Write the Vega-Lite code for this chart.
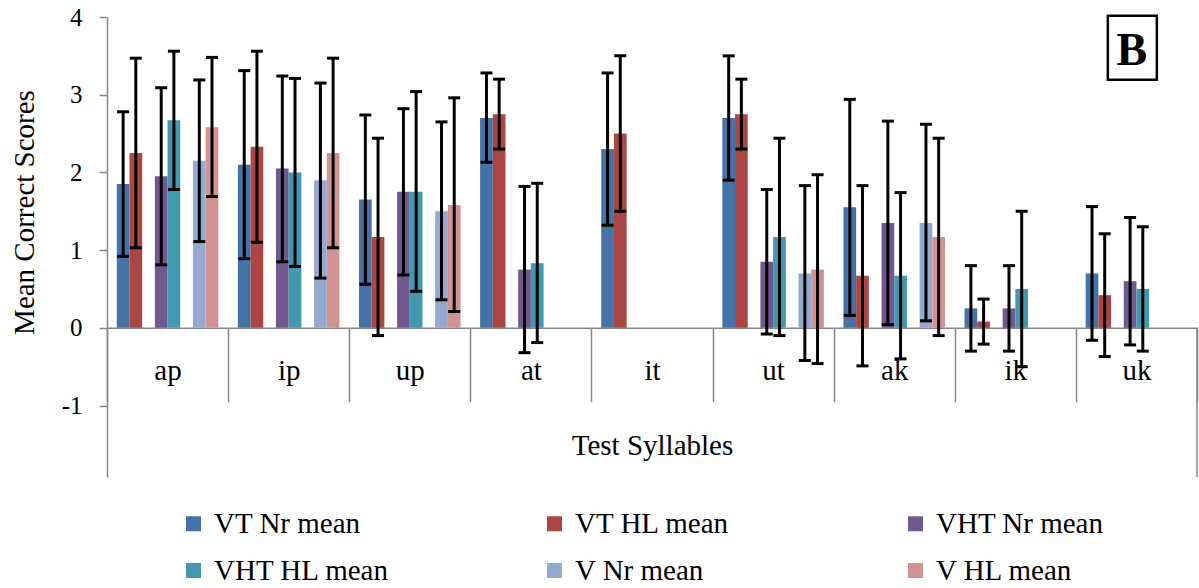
{
  "$schema": "https://vega.github.io/schema/vega-lite/v6.json",
  "width": 1090,
  "height": 460,
  "autosize": {"type": "none"},
  "padding": {"left": 107, "top": 17, "right": 2, "bottom": 111},
  "background": "white",
  "config": {"view": {"stroke": null}, "font": "Liberation Serif"},
  "datasets": {
    "scores": [
      {"syllable": "ap", "series": "VT Nr mean", "mean": 1.85, "lo": 0.92, "hi": 2.78},
      {"syllable": "ap", "series": "VT HL mean", "mean": 2.25, "lo": 1.03, "hi": 3.47},
      {"syllable": "ap", "series": "VHT Nr mean", "mean": 1.95, "lo": 0.81, "hi": 3.09},
      {"syllable": "ap", "series": "VHT HL mean", "mean": 2.67, "lo": 1.78, "hi": 3.56},
      {"syllable": "ap", "series": "V Nr mean", "mean": 2.15, "lo": 1.11, "hi": 3.19},
      {"syllable": "ap", "series": "V HL mean", "mean": 2.58, "lo": 1.69, "hi": 3.48},
      {"syllable": "ip", "series": "VT Nr mean", "mean": 2.10, "lo": 0.89, "hi": 3.31},
      {"syllable": "ip", "series": "VT HL mean", "mean": 2.33, "lo": 1.10, "hi": 3.56},
      {"syllable": "ip", "series": "VHT Nr mean", "mean": 2.05, "lo": 0.85, "hi": 3.24},
      {"syllable": "ip", "series": "VHT HL mean", "mean": 2.00, "lo": 0.79, "hi": 3.21},
      {"syllable": "ip", "series": "V Nr mean", "mean": 1.90, "lo": 0.64, "hi": 3.15},
      {"syllable": "ip", "series": "V HL mean", "mean": 2.25, "lo": 1.03, "hi": 3.47},
      {"syllable": "up", "series": "VT Nr mean", "mean": 1.65, "lo": 0.56, "hi": 2.74},
      {"syllable": "up", "series": "VT HL mean", "mean": 1.17, "lo": -0.10, "hi": 2.44},
      {"syllable": "up", "series": "VHT Nr mean", "mean": 1.75, "lo": 0.68, "hi": 2.82},
      {"syllable": "up", "series": "VHT HL mean", "mean": 1.75, "lo": 0.47, "hi": 3.04},
      {"syllable": "up", "series": "V Nr mean", "mean": 1.50, "lo": 0.36, "hi": 2.65},
      {"syllable": "up", "series": "V HL mean", "mean": 1.58, "lo": 0.21, "hi": 2.96},
      {"syllable": "at", "series": "VT Nr mean", "mean": 2.70, "lo": 2.13, "hi": 3.28},
      {"syllable": "at", "series": "VT HL mean", "mean": 2.75, "lo": 2.30, "hi": 3.20},
      {"syllable": "at", "series": "VHT Nr mean", "mean": 0.75, "lo": -0.32, "hi": 1.82},
      {"syllable": "at", "series": "VHT HL mean", "mean": 0.83, "lo": -0.19, "hi": 1.86},
      {"syllable": "it", "series": "VT Nr mean", "mean": 2.30, "lo": 1.32, "hi": 3.28},
      {"syllable": "it", "series": "VT HL mean", "mean": 2.50, "lo": 1.50, "hi": 3.50},
      {"syllable": "ut", "series": "VT Nr mean", "mean": 2.70, "lo": 1.90, "hi": 3.50},
      {"syllable": "ut", "series": "VT HL mean", "mean": 2.75, "lo": 2.30, "hi": 3.20},
      {"syllable": "ut", "series": "VHT Nr mean", "mean": 0.85, "lo": -0.08, "hi": 1.78},
      {"syllable": "ut", "series": "VHT HL mean", "mean": 1.17, "lo": -0.10, "hi": 2.44},
      {"syllable": "ut", "series": "V Nr mean", "mean": 0.70, "lo": -0.42, "hi": 1.83},
      {"syllable": "ut", "series": "V HL mean", "mean": 0.75, "lo": -0.46, "hi": 1.97},
      {"syllable": "ak", "series": "VT Nr mean", "mean": 1.55, "lo": 0.16, "hi": 2.94},
      {"syllable": "ak", "series": "VT HL mean", "mean": 0.67, "lo": -0.49, "hi": 1.83},
      {"syllable": "ak", "series": "VHT Nr mean", "mean": 1.35, "lo": 0.04, "hi": 2.66},
      {"syllable": "ak", "series": "VHT HL mean", "mean": 0.67, "lo": -0.40, "hi": 1.74},
      {"syllable": "ak", "series": "V Nr mean", "mean": 1.35, "lo": 0.09, "hi": 2.62},
      {"syllable": "ak", "series": "V HL mean", "mean": 1.17, "lo": -0.10, "hi": 2.44},
      {"syllable": "ik", "series": "VT Nr mean", "mean": 0.25, "lo": -0.30, "hi": 0.80},
      {"syllable": "ik", "series": "VT HL mean", "mean": 0.08, "lo": -0.21, "hi": 0.37},
      {"syllable": "ik", "series": "VHT Nr mean", "mean": 0.25, "lo": -0.30, "hi": 0.80},
      {"syllable": "ik", "series": "VHT HL mean", "mean": 0.50, "lo": -0.50, "hi": 1.50},
      {"syllable": "uk", "series": "VT Nr mean", "mean": 0.70, "lo": -0.16, "hi": 1.56},
      {"syllable": "uk", "series": "VT HL mean", "mean": 0.42, "lo": -0.37, "hi": 1.21},
      {"syllable": "uk", "series": "VHT Nr mean", "mean": 0.60, "lo": -0.22, "hi": 1.42},
      {"syllable": "uk", "series": "VHT HL mean", "mean": 0.50, "lo": -0.30, "hi": 1.30}
    ]
  },
  "layer": [
    {
      "data": {"name": "scores"},
      "mark": {"type": "bar"},
      "encoding": {
        "x": {
          "field": "syllable", "type": "nominal",
          "sort": ["ap", "ip", "up", "at", "it", "ut", "ak", "ik", "uk"],
          "scale": {"paddingInner": 0, "paddingOuter": 0},
          "title": "Test Syllables",
          "axis": {
            "offset": -149.2,
            "tickBand": "extent",
            "tickSize": 74,
            "tickColor": "#868686",
            "tickWidth": 1.5,
            "domainColor": "#868686",
            "domainWidth": 1.5,
            "labelAngle": 0,
            "labelFont": "Liberation Serif",
            "labelFontSize": 29,
            "labelColor": "black",
            "labelBaseline": "alphabetic",
            "labelPadding": -22,
            "titleFont": "Liberation Serif",
            "titleFontSize": 29,
            "titleFontWeight": "normal",
            "titleColor": "black",
            "titleX": 545,
            "titleY": 127,
            "titleBaseline": "alphabetic",
            "titleAlign": "center",
            "grid": false
          }
        },
        "xOffset": {
          "field": "series", "type": "nominal",
          "scale": {
            "domain": ["VT Nr mean", "VT HL mean", "gap1", "VHT Nr mean", "VHT HL mean", "gap2", "V Nr mean", "V HL mean"],
            "paddingInner": 0, "paddingOuter": 0.77
          }
        },
        "y": {
          "field": "mean", "type": "quantitative",
          "title": "Mean Correct Scores",
          "scale": {"domain": [-1.92, 4], "nice": false, "zero": false},
          "axis": {
            "values": [-1, 0, 1, 2, 3, 4],
            "labelExpr": "'' + datum.value",
            "grid": false,
            "tickSize": 8,
            "tickColor": "#868686",
            "tickWidth": 1.5,
            "domainColor": "#868686",
            "domainWidth": 1.5,
            "labelFont": "Liberation Serif",
            "labelFontSize": 25,
            "labelColor": "black",
            "labelPadding": 17,
            "titleFont": "Liberation Serif",
            "titleFontSize": 29,
            "titleFontWeight": "normal",
            "titleColor": "black",
            "titleX": -74,
            "titleY": 195,
            "titleBaseline": "alphabetic",
            "titleAlign": "center"
          }
        },
        "color": {
          "field": "series", "type": "nominal",
          "scale": {
            "domain": ["VT Nr mean", "VT HL mean", "VHT Nr mean", "VHT HL mean", "V Nr mean", "V HL mean"],
            "range": ["#4572A7", "#AA4643", "#71588F", "#4198AF", "#93A9CF", "#D19392"]
          },
          "legend": {
            "title": null,
            "orient": "none",
            "legendX": 72,
            "legendY": 492,
            "direction": "horizontal",
            "columns": 3,
            "gridAlign": "all",
            "columnPadding": 150,
            "rowPadding": 17,
            "padding": 0,
            "symbolType": "square",
            "symbolSize": 225,
            "symbolStrokeWidth": 0,
            "labelFont": "Liberation Serif",
            "labelFontSize": 29,
            "labelColor": "black",
            "labelLimit": 400,
            "labelOffset": 6
          }
        }
      }
    },
    {
      "data": {"name": "scores"},
      "mark": {"type": "rule", "color": "black", "strokeWidth": 3},
      "encoding": {
        "x": {"field": "syllable", "type": "nominal", "sort": ["ap", "ip", "up", "at", "it", "ut", "ak", "ik", "uk"], "title": "Test Syllables"},
        "xOffset": {"field": "series", "type": "nominal"},
        "y": {"field": "lo", "type": "quantitative", "title": "Mean Correct Scores"},
        "y2": {"field": "hi"}
      }
    },
    {
      "data": {"name": "scores"},
      "mark": {"type": "tick", "color": "black", "thickness": 3, "size": 12, "opacity": 1},
      "encoding": {
        "x": {"field": "syllable", "type": "nominal", "sort": ["ap", "ip", "up", "at", "it", "ut", "ak", "ik", "uk"], "title": "Test Syllables"},
        "xOffset": {"field": "series", "type": "nominal"},
        "y": {"field": "lo", "type": "quantitative", "title": "Mean Correct Scores"}
      }
    },
    {
      "data": {"name": "scores"},
      "mark": {"type": "tick", "color": "black", "thickness": 3, "size": 12, "opacity": 1},
      "encoding": {
        "x": {"field": "syllable", "type": "nominal", "sort": ["ap", "ip", "up", "at", "it", "ut", "ak", "ik", "uk"], "title": "Test Syllables"},
        "xOffset": {"field": "series", "type": "nominal"},
        "y": {"field": "hi", "type": "quantitative", "title": "Mean Correct Scores"}
      }
    },
    {
      "data": {"values": [{"panel": "B"}]},
      "mark": {"type": "text", "fontSize": 46, "fontWeight": "bold", "font": "Liberation Serif", "baseline": "alphabetic", "align": "center", "dx": -4.6, "color": "black"},
      "encoding": {
        "x": {"datum": "uk"},
        "y": {"datum": 3.385},
        "text": {"field": "panel"}
      }
    },
    {
      "data": {"values": [{"panel": "B"}]},
      "mark": {"type": "point", "shape": "M-0.894,-1H0.6375V1H-0.894Z", "size": 4096, "filled": false, "stroke": "black", "strokeWidth": 2.5, "opacity": 1},
      "encoding": {
        "x": {"datum": "uk"},
        "y": {"datum": 3.604}
      }
    },
    {
      "data": {"values": [{"panel": "B"}]},
      "mark": {"type": "rule", "color": "#868686", "strokeWidth": 1.5},
      "encoding": {
        "x": {"datum": "uk", "bandPosition": 1},
        "y": {"datum": 0},
        "y2": {"datum": -1.92}
      }
    }
  ]
}
